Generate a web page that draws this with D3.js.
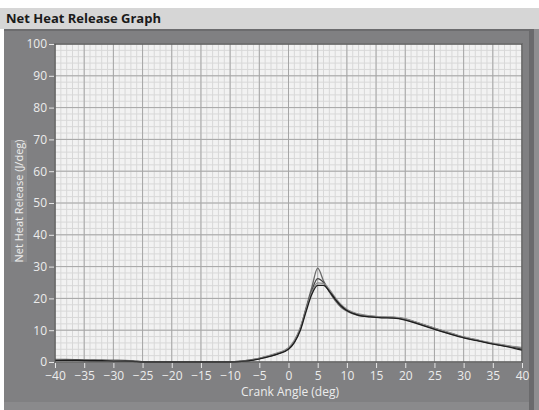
<!DOCTYPE html>
<html>
<head>
<meta charset="utf-8">
<script src="https://cdn.jsdelivr.net/npm/d3@7"></script>
<style>
  body { margin: 0; background: #fff; }
  svg { display: block; }
  .tick text { font-family: "Open Sans", "DejaVu Sans", sans-serif; font-size: 12px; fill: #ececec; }
</style>
</head>
<body>
<div id="vis"></div>
<script>
// crank angle (deg) sample points shared by all cycles
var crankAngle = [-40,-38,-36,-34,-32,-30,-28,-26,-25,-24,-20,-15,-10,-8,-6,-4,-2,0,1,2,3,4,5,6,7,8,9,10,12,14,16,18,20,22,24,26,28,30,32,34,36,38,40];

// net heat release (J/deg), one array per recorded cycle
var cycle1 = [0.8,0.8,0.7,0.6,0.5,0.5,0.5,0.3,0.1,0,0,0,0,0.3,0.8,1.6,2.6,4.3,6.5,10.5,17,23.5,29.5,25.5,22,19.3,17.2,16,14.6,14.2,14,13.9,13.3,12.2,11.0,9.8,8.7,7.7,6.9,6.1,5.4,4.9,4.4];
var cycle2 = [0.6,0.7,0.6,0.6,0.6,0.5,0.4,0.2,0.1,0,0,0,0,0.2,0.7,1.5,2.5,4.2,6.3,10.2,16.5,22.5,26.2,25,22.3,19.7,17.6,16.3,14.9,14.4,14.1,14.0,13.5,12.4,11.2,10.0,8.9,7.8,7.0,6.2,5.5,4.8,4.0];
var cycle3 = [0.7,0.6,0.5,0.5,0.4,0.4,0.3,0.2,0,0,0,0,0,0.3,0.8,1.7,2.8,4.5,6.8,10.8,16.5,22,24.9,24.7,22.8,20.3,18.1,16.6,15.1,14.5,14.2,14.1,13.6,12.5,11.3,10.1,9.0,7.9,7.1,6.3,5.6,5.0,4.6];
var cycle4 = [0.5,0.5,0.5,0.4,0.4,0.3,0.3,0.1,0,0,0,0,0,0.2,0.6,1.4,2.4,4.0,6.1,9.8,15.8,21.3,24.1,24.1,22.2,19.8,17.7,16.2,14.7,14.2,13.9,13.8,13.2,12.1,10.9,9.7,8.6,7.6,6.8,6.0,5.3,4.6,3.7];
var cycles = [cycle1, cycle2, cycle3, cycle4];
var cycleColors = ["#6a6a6a", "#444444", "#8a8a8a", "#1e1e1e"];

var xTicks = d3.range(-40, 41, 5);
var yTicks = d3.range(0, 101, 10);

var W = 539, H = 410;
var m = {left: 55, right: 17, top: 44, bottom: 48};

var svg = d3.select("#vis").append("svg").attr("width", W).attr("height", H);

// window chrome
svg.append("rect").attr("x", 0).attr("y", 0).attr("width", W).attr("height", H).attr("fill", "#ffffff");
svg.append("rect").attr("x", 0).attr("y", 8).attr("width", W).attr("height", 21).attr("fill", "#d6d6d6");
svg.append("rect").attr("x", 4).attr("y", 29).attr("width", W - 4).attr("height", H - 29).attr("fill", "#808082");
svg.append("rect").attr("x", 4).attr("y", 29).attr("width", W - 4).attr("height", 2).attr("fill", "#6c6c6e");
svg.append("rect").attr("x", 529).attr("y", 29).attr("width", 10).attr("height", H - 29).attr("fill", "#6a6a6c");
svg.append("rect").attr("x", 534).attr("y", 29).attr("width", 5).attr("height", H - 29).attr("fill", "#8e8e90");
svg.append("rect").attr("x", 4).attr("y", 402).attr("width", 525).attr("height", 8).attr("fill", "#8a8a8c");

svg.append("text").attr("x", 6).attr("y", 23)
  .attr("font-family", "'Open Sans', 'DejaVu Sans', sans-serif")
  .attr("font-size", 13).attr("font-weight", "bold").attr("fill", "#1a1a1a")
  .text("Net Heat Release Graph");

var x = d3.scaleLinear().domain([-40, 40]).range([m.left, W - m.right]);
var y = d3.scaleLinear().domain([0, 100]).range([H - m.bottom, m.top]);

// plot area
svg.append("rect").attr("x", x(-40)).attr("y", y(100))
  .attr("width", x(40) - x(-40)).attr("height", y(0) - y(100))
  .attr("fill", "#f2f2f2");

// minor grid
var g = svg.append("g");
g.selectAll(".mx").data(d3.range(-40, 41, 1)).join("line")
  .attr("x1", d => x(d)).attr("x2", d => x(d))
  .attr("y1", y(0)).attr("y2", y(100))
  .attr("stroke", "#d8d8d8").attr("stroke-width", 1);
g.selectAll(".my").data(d3.range(0, 101, 2)).join("line")
  .attr("y1", d => y(d)).attr("y2", d => y(d))
  .attr("x1", x(-40)).attr("x2", x(40))
  .attr("stroke", "#d8d8d8").attr("stroke-width", 1);
// major grid
g.selectAll(".gx").data(xTicks).join("line")
  .attr("x1", d => x(d)).attr("x2", d => x(d))
  .attr("y1", y(0)).attr("y2", y(100))
  .attr("stroke", "#a6a6a6").attr("stroke-width", 1);
g.selectAll(".gy").data(yTicks).join("line")
  .attr("y1", d => y(d)).attr("y2", d => y(d))
  .attr("x1", x(-40)).attr("x2", x(40))
  .attr("stroke", "#a6a6a6").attr("stroke-width", 1);

// curves
var line = d3.line()
  .x((d, i) => x(crankAngle[i]))
  .y(d => y(d))
  .curve(d3.curveMonotoneX);

svg.selectAll(".cyc").data(cycles).join("path")
  .attr("d", line)
  .attr("fill", "none")
  .attr("stroke", (d, i) => cycleColors[i])
  .attr("stroke-width", 1.3);

// frame
svg.append("rect").attr("x", x(-40)).attr("y", y(100))
  .attr("width", x(40) - x(-40)).attr("height", y(0) - y(100))
  .attr("fill", "none").attr("stroke", "#4a4a4a").attr("stroke-width", 1.2);

// axes
var xAxis = svg.append("g").attr("transform", "translate(0," + (y(0) + 1) + ")")
  .call(d3.axisBottom(x).tickValues(xTicks).tickSize(5).tickPadding(3));
var yAxis = svg.append("g").attr("transform", "translate(" + (x(-40) - 1) + ",0)")
  .call(d3.axisLeft(y).tickValues(yTicks).tickSize(5).tickPadding(2));
[xAxis, yAxis].forEach(function(a) {
  a.select(".domain").remove();
  a.selectAll(".tick line").attr("stroke", "#e6e6e6");
});

svg.append("text").attr("x", 290).attr("y", 396)
  .attr("text-anchor", "middle")
  .attr("font-family", "'Open Sans', 'DejaVu Sans', sans-serif")
  .attr("font-size", 12).attr("fill", "#ececec")
  .text("Crank Angle (deg)");

svg.append("rect").attr("x", 11).attr("y", 140).attr("width", 16).attr("height", 122).attr("fill", "#8c8c8e");
svg.append("text")
  .attr("transform", "translate(23,201) rotate(-90)")
  .attr("text-anchor", "middle")
  .attr("font-family", "'Open Sans', 'DejaVu Sans', sans-serif")
  .attr("font-size", 11).attr("fill", "#ececec")
  .text("Net Heat Release (J/deg)");
</script>
</body>
</html>
